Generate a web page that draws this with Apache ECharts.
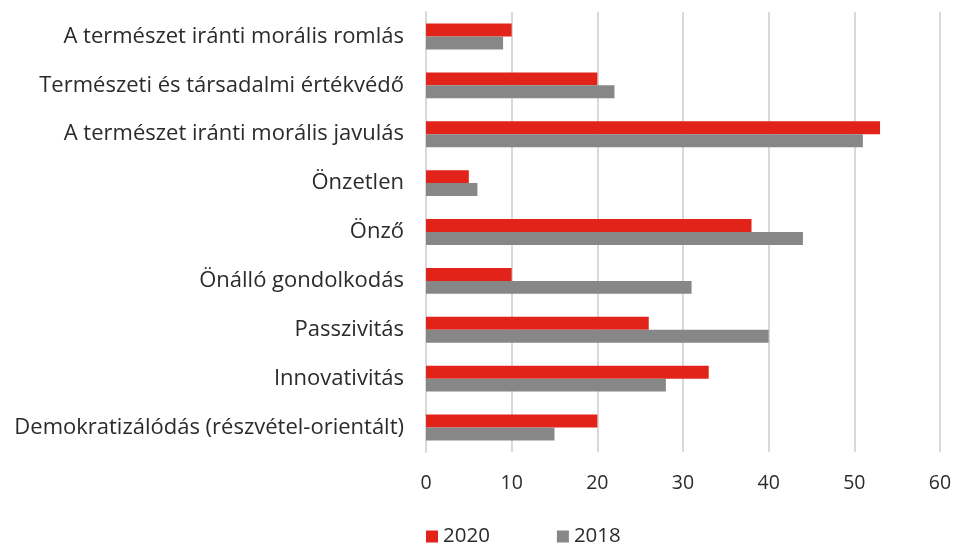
<!DOCTYPE html>
<html lang="hu">
<head>
  <meta charset="UTF-8">
  <title>Bar chart</title>
  <script src="https://cdn.jsdelivr.net/npm/echarts@6/dist/echarts.min.js"></script>
  <style>
    html, body { margin: 0; padding: 0; background: #fff; }
    #chart { width: 957px; height: 545px; }
  </style>
</head>
<body>
  <div id="chart"></div>
  <script>
    // data
    const categories = [
      'A természet iránti morális romlás',
      'Természeti és társadalmi értékvédő',
      'A természet iránti morális javulás',
      'Önzetlen',
      'Önző',
      'Önálló gondolkodás',
      'Passzivitás',
      'Innovativitás',
      'Demokratizálódás (részvétel-orientált)'
    ];
    const values2020 = [10, 20, 53, 5, 38, 10, 26, 33, 20];
    const values2018 = [9, 22, 51, 6, 44, 31, 40, 28, 15];
    const seriesNames = ['2020', '2018'];

    const font = '"Open Sans", Lato, sans-serif';
    let myChart = echarts.init(document.getElementById('chart'));

    let option = {
      animation: false,
      grid: {
        left: 426,
        right: 17,
        top: 12,
        bottom: 93
      },
      legend: {
        data: seriesNames,
        left: 426,
        top: 526,
        padding: 0,
        itemWidth: 12,
        itemHeight: 12,
        itemGap: 67,
        icon: 'rect',
        textStyle: { fontFamily: font, fontSize: 20.5, color: '#2b2b2b' }
      },
      xAxis: {
        type: 'value',
        min: 0,
        max: 60,
        interval: 10,
        axisLine: { show: false },
        axisTick: { show: false },
        splitLine: { lineStyle: { color: '#d9d9d9', width: 2 } },
        axisLabel: { fontFamily: font, fontSize: 19.5, color: '#2b2b2b', margin: 21 }
      },
      yAxis: {
        type: 'category',
        data: categories,
        inverse: true,
        axisLine: { show: true, lineStyle: { color: '#d9d9d9', width: 2 } },
        axisTick: { show: false },
        axisLabel: { fontFamily: font, fontSize: 22, color: '#2b2b2b', margin: 22 }
      },
      series: [
        {
          name: seriesNames[0],
          type: 'bar',
          data: values2020,
          barGap: '0%',
          barCategoryGap: '47%',
          itemStyle: { color: '#e2231a' }
        },
        {
          name: seriesNames[1],
          type: 'bar',
          data: values2018,
          barGap: '0%',
          barCategoryGap: '47%',
          itemStyle: { color: '#878787' }
        }
      ]
    };

    myChart.setOption(option);
  </script>
</body>
</html>
